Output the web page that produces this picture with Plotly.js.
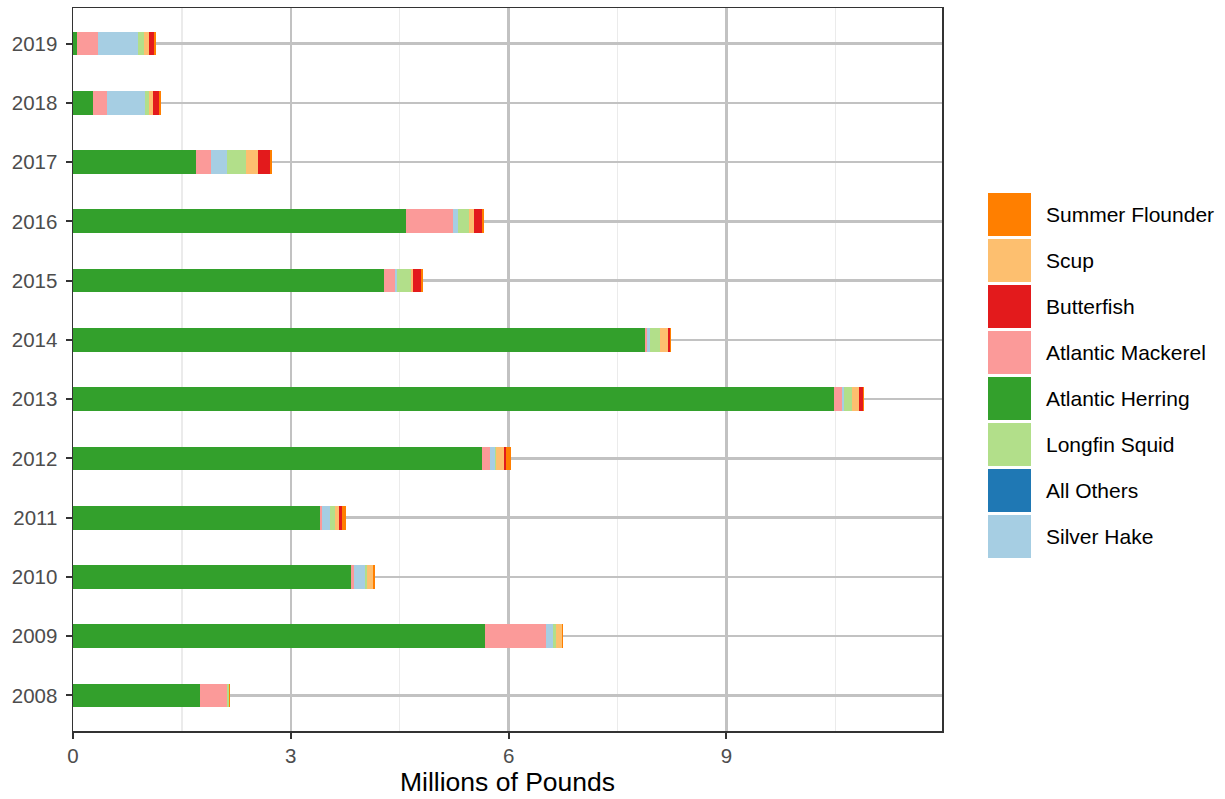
<!DOCTYPE html>
<html>
<head>
<meta charset="utf-8">
<script src="https://cdn.plot.ly/plotly-3.0.1.min.js"></script>
<style>html,body{margin:0;padding:0;background:#fff;}#chart{width:1225px;height:799px;}</style>
</head>
<body>
<div id="chart"></div>
<script>
// Categories (years)
const years = ['2008','2009','2010','2011','2012','2013','2014','2015','2016','2017','2018','2019'];

// Series values, millions of pounds (stack order left to right)
const atlanticHerring  = [1.748, 5.67, 3.826, 3.40, 5.628, 10.486, 7.885, 4.28, 4.58, 1.69, 0.275, 0.055];
const atlanticMackerel = [0.37, 0.85, 0.05, 0.03, 0.11, 0.11, 0.015, 0.16, 0.66, 0.21, 0.19, 0.29];
const silverHake       = [0.01, 0.09, 0.14, 0.11, 0.07, 0.03, 0.05, 0.02, 0.06, 0.22, 0.53, 0.55];
const allOthers        = [0, 0, 0, 0, 0, 0, 0, 0, 0, 0, 0, 0];
const longfinSquid     = [0.015, 0.04, 0.03, 0.07, 0.02, 0.10, 0.13, 0.19, 0.15, 0.26, 0.055, 0.08];
const scup             = [0.005, 0.08, 0.08, 0.06, 0.11, 0.10, 0.11, 0.04, 0.07, 0.17, 0.05, 0.07];
const butterfish       = [0, 0.01, 0, 0.03, 0.03, 0.05, 0.04, 0.10, 0.11, 0.17, 0.08, 0.07];
const summerFlounder   = [0.01, 0.015, 0.03, 0.06, 0.06, 0.015, 0.01, 0.03, 0.03, 0.02, 0.03, 0.03];

const seriesNames  = ['Atlantic Herring','Atlantic Mackerel','Silver Hake','All Others','Longfin Squid','Scup','Butterfish','Summer Flounder'];
const seriesValues = [atlanticHerring, atlanticMackerel, silverHake, allOthers, longfinSquid, scup, butterfish, summerFlounder];
const seriesColors = ['#33A02C','#FB9A99','#A6CEE3','#1F78B4','#B2DF8A','#FDBF6F','#E31A1C','#FF7F00'];

// Legend order (top to bottom)
const legendOrder = ['Summer Flounder','Scup','Butterfish','Atlantic Mackerel','Atlantic Herring','Longfin Squid','All Others','Silver Hake'];

// x tick labels
const xTickVals = [0, 3, 6, 9];
const xTickText = ['0', '3', '6', '9'];

const FONT = 'Liberation Sans, Arial, Helvetica, sans-serif';

const traces = seriesNames.map((name, i) => ({
  type: 'bar',
  orientation: 'h',
  name: name,
  x: seriesValues[i],
  y: years,
  width: 0.4,
  marker: {color: seriesColors[i], line: {width: 0}},
  showlegend: false,
  hoverinfo: 'x+name'
}));

// Custom legend (large keys), built from the legend arrays
const plotL = 73, plotR = 942, plotT = 8, plotB = 731;
const pw = plotR - plotL, ph = plotB - plotT;
const px2x = p => (p - plotL) / pw;
const py2y = p => (plotB - p) / ph;
const shapes = [];
const annotations = [];
legendOrder.forEach((name, k) => {
  const idx = seriesNames.indexOf(name);
  const top = 193 + 46 * k;
  shapes.push({
    type: 'rect', xref: 'paper', yref: 'paper',
    x0: px2x(988), x1: px2x(1031), y0: py2y(top), y1: py2y(top + 43),
    fillcolor: seriesColors[idx], line: {width: 0}
  });
  annotations.push({
    xref: 'paper', yref: 'paper', x: px2x(1044), y: py2y(top + 21.5),
    xanchor: 'left', yanchor: 'middle', showarrow: false,
    text: name, font: {family: FONT, size: 21, color: '#000000'}
  });
});

const layout = {
  width: 1225, height: 799,
  paper_bgcolor: '#ffffff', plot_bgcolor: '#ffffff',
  margin: {l: plotL, r: 1225 - plotR, t: plotT, b: 799 - plotB, pad: 0},
  barmode: 'stack',
  showlegend: false,
  font: {family: FONT},
  xaxis: {
    range: [0, 11.97],
    tickvals: xTickVals, ticktext: xTickText,
    ticks: 'outside', ticklen: 6, tickwidth: 2, tickcolor: '#333333',
    tickfont: {family: FONT, size: 20.5, color: '#4d4d4d'},
    showgrid: true, gridcolor: '#c2c2c2', gridwidth: 2.5,
    minor: {tickvals: [1.5, 4.5, 7.5, 10.5], showgrid: true, gridcolor: '#ebebeb', gridwidth: 1.5, ticks: ''},
    zeroline: false,
    showline: true, mirror: true, linecolor: '#333333', linewidth: 1.5,
    title: {text: 'Millions of Pounds', font: {family: FONT, size: 26.5, color: '#000000'}, standoff: 6},
    automargin: false
  },
  yaxis: {
    type: 'category',
    categoryorder: 'array', categoryarray: years,
    range: [-0.6, 11.6],
    ticks: 'outside', ticklen: 6, tickwidth: 2, tickcolor: '#333333',
    tickfont: {family: FONT, size: 20.5, color: '#4d4d4d'},
    ticklabelstandoff: 4,
    showgrid: true, gridcolor: '#c2c2c2', gridwidth: 2.5,
    zeroline: false,
    showline: true, mirror: true, linecolor: '#333333', linewidth: 1.5,
    automargin: false
  },
  shapes: shapes,
  annotations: annotations
};

Plotly.newPlot('chart', traces, layout, {displayModeBar: false, staticPlot: true});
</script>
</body>
</html>
